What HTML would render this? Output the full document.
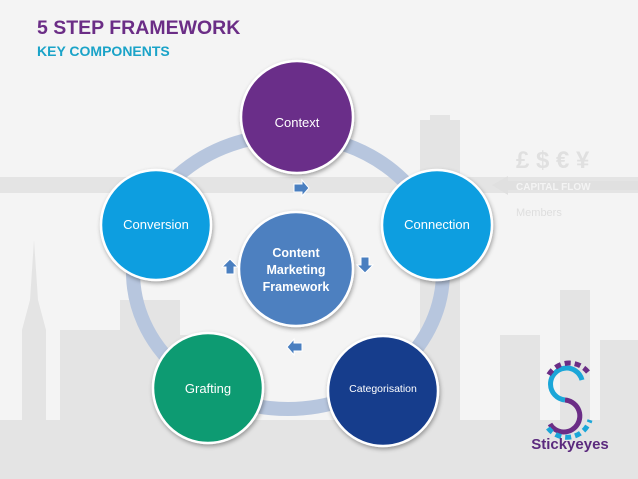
<!DOCTYPE html>
<html><head><meta charset="utf-8"><style>
body{margin:0;width:638px;height:479px;overflow:hidden;background:#f3f3f3;font-family:"Liberation Sans",sans-serif;}
</style></head><body>
<svg width="638" height="479" viewBox="0 0 638 479" xmlns="http://www.w3.org/2000/svg" style="position:absolute;left:0;top:0">
<defs><filter id="sh" x="-20%" y="-20%" width="140%" height="140%"><feDropShadow dx="1" dy="2" stdDeviation="2" flood-color="#000" flood-opacity="0.35"/></filter></defs>
<rect width="638" height="479" fill="#f4f4f4"/>
<!-- city silhouette -->
<g fill="#e4e4e4">
<rect x="0" y="177" width="638" height="16"/>
<polygon points="22,430 22,330 30,300 34,240 38,300 46,330 46,430"/>
<rect x="60" y="330" width="60" height="100"/>
<rect x="120" y="300" width="60" height="130"/>
<rect x="160" y="335" width="60" height="95"/>
<rect x="420" y="120" width="40" height="310"/>
<rect x="430" y="115" width="20" height="10"/>
<rect x="500" y="335" width="40" height="95"/>
<rect x="560" y="290" width="30" height="140"/>
<rect x="600" y="340" width="38" height="90"/>
<rect x="0" y="420" width="638" height="59"/>
</g>
<text x="516" y="168" font-size="24" font-weight="bold" fill="#e0e0e0">£ $ € ¥</text>
<polygon points="492,185 508,176 508,181 638,181 638,190 508,190 508,195" fill="#e0e0e0"/>
<text x="516" y="190" font-size="10" font-weight="bold" fill="#f4f4f4">CAPITAL FLOW</text>
<text x="516" y="216" font-size="11" fill="#dedede">Members</text>
<!-- ring -->
<ellipse cx="288" cy="272" rx="155" ry="137" fill="none" stroke="#b7c6de" stroke-width="14"/>
<!-- circles -->
<g filter="url(#sh)" stroke="#fff" stroke-width="2.5">
<circle cx="297" cy="117" r="56" fill="#6b2f89"/>
<circle cx="437" cy="225" r="55" fill="#0f9ee0"/>
<circle cx="383" cy="391" r="55" fill="#143c8c"/>
<circle cx="208" cy="388" r="55" fill="#0f9b72"/>
<circle cx="156" cy="225" r="55" fill="#0f9ee0"/>
<circle cx="296" cy="269" r="57" fill="#4e80c0"/>
</g>
<g fill="#fff" text-anchor="middle" font-size="13">
<text x="297" y="127">Context</text>
<text x="437" y="229">Connection</text>
<text x="383" y="392" font-size="10.5">Categorisation</text>
<text x="208" y="393">Grafting</text>
<text x="156" y="229">Conversion</text>
<g font-weight="bold" font-size="12.5"><text x="296" y="257">Content</text><text x="296" y="274">Marketing</text><text x="296" y="291">Framework</text></g>
</g>
<!-- small arrows -->
<g fill="#4a7fc0" stroke="#fff" stroke-width="1">
<polygon points="294,184 302,184 302,180 309,188 302,196 302,192 294,192"/>
<polygon points="361,257 361,265 357,265 365,273 373,265 369,265 369,257"/>
<polygon points="302,343 294,343 294,339 287,347 294,355 294,351 302,351"/>
<polygon points="226,274 226,267 222,267 230,259 238,267 234,267 234,274"/>
</g>
<!-- title -->
<text x="37" y="34" font-size="19.5" font-weight="bold" fill="#6b2d86">5 STEP FRAMEWORK</text>
<text x="37" y="56" font-size="14" font-weight="bold" fill="#1aa3c8">KEY COMPONENTS</text>
<!-- logo -->
<g fill="none" stroke-width="5">
<path d="M582,380 A16,16 0 1 0 565,400" stroke="#1ba6d8"/>
<path d="M565,400 A16,16 0 1 1 550,424" stroke="#6b2d86"/>
<path d="M588,372 A24,24 0 0 0 548,376" stroke="#6b2d86" stroke-dasharray="6 4"/>
<path d="M548,428 A24,24 0 0 0 590,420" stroke="#1ba6d8" stroke-dasharray="6 4"/>
</g>
<text x="570" y="449" text-anchor="middle" font-size="15" font-weight="bold" fill="#5b2a7e">Stickyeyes</text>
</svg>
</body></html>
